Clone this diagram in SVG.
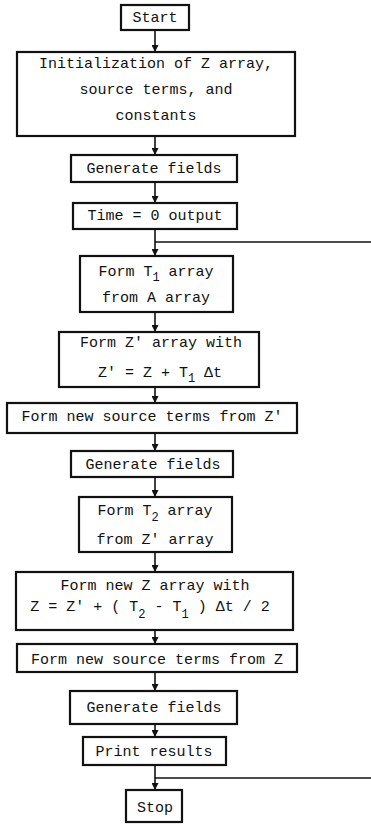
<svg xmlns="http://www.w3.org/2000/svg" width="371" height="824" viewBox="0 0 371 824">
<style>
.box{fill:#fff;stroke:#111;stroke-width:2.2}
.t{font-family:"Liberation Mono","DejaVu Sans Mono",monospace;font-size:15px;fill:#111;text-anchor:middle}
.s{font-size:12px}
.c{fill:none;stroke:#111;stroke-width:1.6}
</style>
<defs>
<marker id="ah" viewBox="0 0 10 10" refX="10" refY="5" markerWidth="7" markerHeight="7" markerUnits="userSpaceOnUse" orient="auto">
<path d="M0,0 L10,5 L0,10 Z" fill="#111"/>
</marker>
</defs>
<rect width="371" height="824" fill="#fff"/>
<g id="connectors">
<line class="c" x1="155" y1="30" x2="155" y2="52" marker-end="url(#ah)"/>
<line class="c" x1="155" y1="136" x2="155" y2="155" marker-end="url(#ah)"/>
<line class="c" x1="155" y1="182" x2="155" y2="203" marker-end="url(#ah)"/>
<line class="c" x1="155" y1="229" x2="155" y2="256" marker-end="url(#ah)"/>
<line class="c" x1="155" y1="242" x2="371" y2="242"/>
<line class="c" x1="155" y1="312" x2="155" y2="332" marker-end="url(#ah)"/>
<line class="c" x1="155" y1="387" x2="155" y2="403" marker-end="url(#ah)"/>
<line class="c" x1="155" y1="433" x2="155" y2="451" marker-end="url(#ah)"/>
<line class="c" x1="155" y1="477" x2="155" y2="497" marker-end="url(#ah)"/>
<line class="c" x1="155" y1="552" x2="155" y2="572" marker-end="url(#ah)"/>
<line class="c" x1="155" y1="630" x2="155" y2="644" marker-end="url(#ah)"/>
<line class="c" x1="155" y1="672" x2="155" y2="691" marker-end="url(#ah)"/>
<line class="c" x1="155" y1="724" x2="155" y2="737" marker-end="url(#ah)"/>
<line class="c" x1="155" y1="765" x2="155" y2="790" marker-end="url(#ah)"/>
<line class="c" x1="155" y1="778" x2="371" y2="778"/>
</g>
<g id="start"><rect class="box" x="121" y="5" width="68" height="25"/><text class="t" x="155" y="22">Start</text></g>
<g id="init"><rect class="box" x="17" y="52" width="278" height="84"/>
<text class="t" x="156" y="68">Initialization of Z array,</text>
<text class="t" x="156" y="94">source terms, and</text>
<text class="t" x="156" y="120">constants</text></g>
<g id="gen1"><rect class="box" x="71" y="155" width="166" height="27"/><text class="t" x="154" y="173">Generate fields</text></g>
<g id="time0"><rect class="box" x="73" y="203" width="164" height="26"/><text class="t" x="155" y="220">Time = 0 output</text></g>
<g id="formT1"><rect class="box" x="80" y="256" width="153" height="56"/>
<text class="t" x="156" y="276">Form T<tspan class="s" dy="5">1</tspan><tspan dy="-5"> array</tspan></text>
<text class="t" x="156" y="302">from A array</text></g>
<g id="formZp"><rect class="box" x="59" y="332" width="200" height="55"/>
<text class="t" x="161" y="347">Form Z' array with</text>
<text class="t" x="160" y="377">Z' = Z + T<tspan class="s" dy="5">1</tspan><tspan dy="-5"> Δt</tspan></text></g>
<g id="srcZp"><rect class="box" x="7" y="403" width="290" height="30"/><text class="t" x="152" y="421">Form new source terms from Z'</text></g>
<g id="gen2"><rect class="box" x="71" y="451" width="162" height="26"/><text class="t" x="153" y="469">Generate fields</text></g>
<g id="formT2"><rect class="box" x="79" y="497" width="153" height="55"/>
<text class="t" x="155" y="515">Form T<tspan class="s" dy="6">2</tspan><tspan dy="-6"> array</tspan></text>
<text class="t" x="155" y="544">from Z' array</text></g>
<g id="formZ"><rect class="box" x="16" y="572" width="277" height="58"/>
<text class="t" x="155" y="590">Form new Z array with</text>
<text class="t" x="150" y="611">Z = Z' + ( T<tspan class="s" dy="7">2</tspan><tspan dy="-7"> - T</tspan><tspan class="s" dy="7">1</tspan><tspan dy="-7"> ) Δt / 2</tspan></text></g>
<g id="srcZ"><rect class="box" x="17" y="644" width="280" height="28"/><text class="t" x="157" y="664">Form new source terms from Z</text></g>
<g id="gen3"><rect class="box" x="70" y="691" width="167" height="33"/><text class="t" x="154" y="712">Generate fields</text></g>
<g id="print"><rect class="box" x="83" y="737" width="143" height="28"/><text class="t" x="154" y="756">Print results</text></g>
<g id="stop"><rect class="box" x="126" y="790" width="56" height="32"/><text class="t" x="155" y="812">Stop</text></g>
</svg>
